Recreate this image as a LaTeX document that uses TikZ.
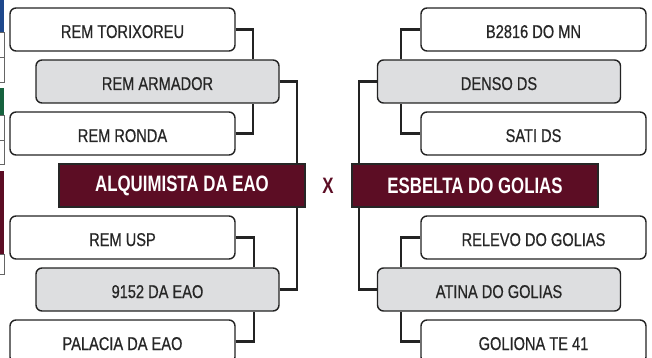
\documentclass[tikz,border=0pt]{standalone}
\usepackage{fontspec}
\setmainfont{Liberation Sans}[FakeStretch=0.79]
\newfontfamily\fonteequipe{Liberation Sans}[FakeStretch=0.79,FakeBold=0.6]
\newfontfamily\fontefinal{Liberation Sans Bold}[FakeStretch=0.755]
\usetikzlibrary{positioning}
\definecolor{vinho}{RGB}{92,13,36}
\definecolor{cinzaclaro}{RGB}{221,222,224}
\definecolor{contorno}{RGB}{35,35,35}
\definecolor{texto}{RGB}{38,38,38}
\definecolor{azulescuro}{RGB}{30,72,140}
\definecolor{verdeescuro}{RGB}{22,98,62}
\tikzset{
  equipe/.style={rectangle,rounded corners=6pt,draw=contorno,fill=white,line width=1.4pt,
    minimum width=225pt,minimum height=43pt,inner sep=0pt,text=texto,
    text height=17pt,text depth=0pt,
    font=\fonteequipe\fontsize{18.5}{20}\selectfont},
  vencedor/.style={equipe,fill=cinzaclaro,minimum width=243pt},
  finalista/.style={rectangle,draw=black!85,fill=vinho,line width=1.4pt,
    minimum width=246pt,minimum height=43pt,inner sep=0pt,text=white,
    font=\fontefinal\fontsize{22.3}{24}\selectfont},
  liga/.style={line width=2.2pt,draw=contorno},
  resto/.style={draw=contorno!70,line width=0.6pt}
}

\begin{document}
\begin{tikzpicture}[x=1pt,y=-1pt]
\useasboundingbox (0,0) rectangle (652,358);
% pedacos da chave anterior, cortados na margem
\fill[azulescuro] (-5,0) rectangle (4,32);
\draw[resto] (-5,32) rectangle (4,57);
\draw[resto] (-5,57) rectangle (4,82);
\fill[verdeescuro] (-5,88) rectangle (4,115);
\draw[resto] (-5,115) rectangle (4,140);
\draw[resto] (-5,140) rectangle (4,164);
\fill[vinho] (-5,171) rectangle (4,254);
\draw[resto] (-5,254) rectangle (4,274);
% lado esquerdo
\node[equipe] (tor) at (122.5,29.5) {REM TORIXOREU};
\node[vencedor] (arm) at (157.5,81.5) {REM ARMADOR};
\node[equipe] (ron) at (122.5,133.5) {REM RONDA};
\node[finalista] (alq) at (182,185.5) {ALQUIMISTA DA EAO};
\node[equipe] (usp) at (122.5,237.5) {REM USP};
\node[vencedor] (eao) at (157.5,289.5) {9152 DA EAO};
\node[equipe] (pal) at (122.5,341.5) {PALACIA DA EAO};
% lado direito
\node[equipe] (b28) at (533.5,29.5) {B2816 DO MN};
\node[vencedor] (den) at (499,81.5) {DENSO DS};
\node[equipe] (sat) at (533.5,133.5) {SATI DS};
\node[finalista] (esb) at (475,185.5) {ESBELTA DO GOLIAS};
\node[equipe] (rel) at (533.5,237.5) {RELEVO DO GOLIAS};
\node[vencedor] (ati) at (499,289.5) {ATINA DO GOLIAS};
\node[equipe] (gol) at (533.5,341.5) {GOLIONA TE 41};
\node[text=vinho,font=\fontefinal\fontsize{22.3}{24}\selectfont] (versus) at (328,186) {X};
% ligacoes
\draw[liga] (tor.east) -| ([xshift=-27pt]arm.north east);
\draw[liga] (ron.east) -| ([xshift=-27pt]arm.south east);
\draw[liga] (arm.east) -| ([xshift=-9pt]alq.north east);
\draw[liga] (usp.east) -| ([xshift=-26pt]eao.north east);
\draw[liga] (pal.east) -| ([xshift=-26pt]eao.south east);
\draw[liga] (eao.east) -| ([xshift=-9pt]alq.south east);
\draw[liga] (b28.west) -| ([xshift=24pt]den.north west);
\draw[liga] (sat.west) -| ([xshift=24pt]den.south west);
\draw[liga] (den.west) -| ([xshift=8pt]esb.north west);
\draw[liga] (rel.west) -| ([xshift=24pt]ati.north west);
\draw[liga] (gol.west) -| ([xshift=24pt]ati.south west);
\draw[liga] (ati.west) -| ([xshift=8pt]esb.south west);
\end{tikzpicture}
\end{document}
